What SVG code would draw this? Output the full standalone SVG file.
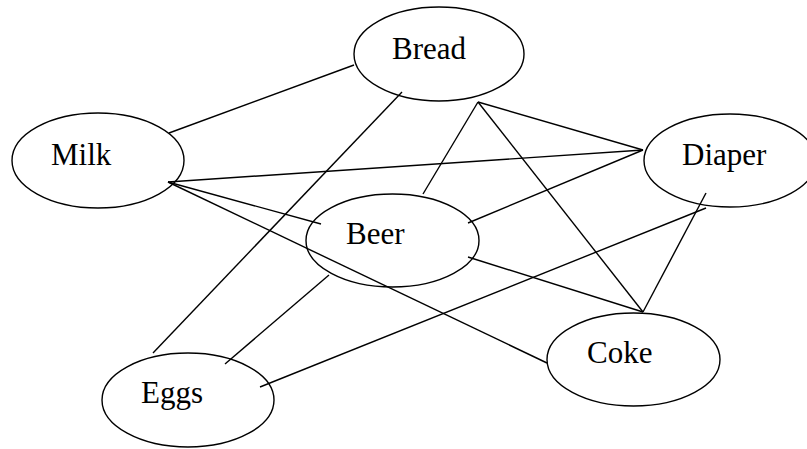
<svg xmlns="http://www.w3.org/2000/svg" width="807" height="449" viewBox="0 0 807 449">
<style>
.n ellipse{fill:none;stroke:#000;stroke-width:1.4}
.n text{font-family:"Liberation Serif","Times New Roman",serif;font-size:31px;fill:#000}
.e line{stroke:#000;stroke-width:1.4;fill:none}
</style>
<rect width="807" height="449" fill="#fff"/>
<g id="bread" class="n"><ellipse cx="439" cy="54" rx="85" ry="47"/><text x="392" y="59">Bread</text></g>
<g id="milk" class="n"><ellipse cx="98" cy="160.5" rx="86" ry="47.5"/><text x="51" y="165">Milk</text></g>
<g id="diaper" class="n"><ellipse cx="730" cy="160.5" rx="86" ry="46.5"/><text x="682" y="165">Diaper</text></g>
<g id="beer" class="n"><ellipse cx="392.5" cy="240.5" rx="86.5" ry="46.5"/><text x="346" y="244">Beer</text></g>
<g id="coke" class="n"><ellipse cx="633.5" cy="359.5" rx="86.5" ry="46.5"/><text x="587" y="363">Coke</text></g>
<g id="eggs" class="n"><ellipse cx="188" cy="400" rx="86" ry="47"/><text x="141" y="403">Eggs</text></g>
<g id="connectors" class="e">
<line x1="354" y1="65" x2="169" y2="133"/>
<line x1="402" y1="92" x2="153" y2="353"/>
<line x1="478" y1="102" x2="643" y2="150"/>
<line x1="478" y1="102" x2="423" y2="194"/>
<line x1="478" y1="102" x2="643" y2="312"/>
<line x1="168" y1="182" x2="643" y2="150"/>
<line x1="168" y1="182" x2="321" y2="224"/>
<line x1="168" y1="182" x2="547" y2="363"/>
<line x1="468" y1="223" x2="643" y2="150"/>
<line x1="468" y1="257" x2="643" y2="312"/>
<line x1="706" y1="193" x2="643" y2="312"/>
<line x1="329" y1="275" x2="225" y2="364"/>
<line x1="260" y1="387" x2="706" y2="208"/>
</g>
</svg>
